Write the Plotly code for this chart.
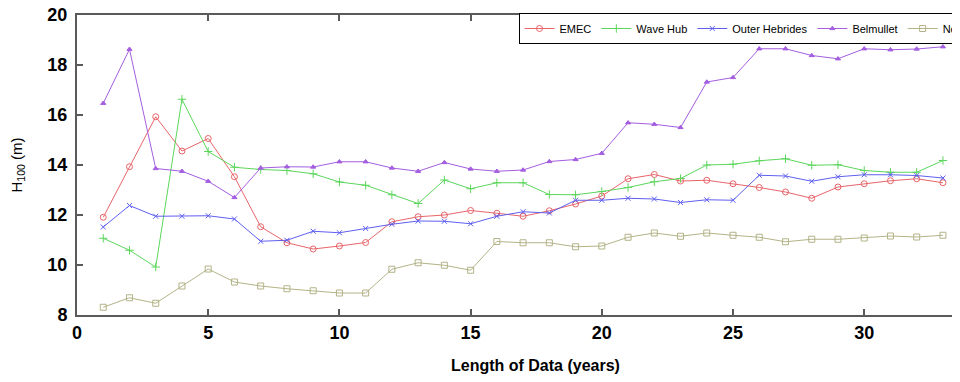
import plotly.graph_objects as go

years = list(range(1, 34))

emec = [11.91, 13.93, 15.93, 14.56, 15.06, 13.53, 11.53, 10.89, 10.64, 10.76, 10.90,
        11.73, 11.93, 12.00, 12.18, 12.07, 11.95, 12.17, 12.44, 12.76, 13.45, 13.62,
        13.36, 13.39, 13.25, 13.10, 12.92, 12.67, 13.12, 13.25, 13.37, 13.45, 13.29]
wave_hub = [11.07, 10.59, 9.92, 16.63, 14.54, 13.91, 13.82, 13.78, 13.65, 13.32, 13.19,
            12.81, 12.46, 13.40, 13.05, 13.29, 13.29, 12.82, 12.81, 12.94, 13.10, 13.33,
            13.46, 14.00, 14.03, 14.17, 14.25, 13.99, 14.01, 13.78, 13.71, 13.71, 14.18]
outer_hebrides = [11.52, 12.38, 11.95, 11.95, 11.97, 11.84, 10.95, 10.99, 11.35, 11.29, 11.46,
                  11.63, 11.76, 11.75, 11.65, 11.95, 12.13, 12.08, 12.59, 12.59, 12.67, 12.64,
                  12.50, 12.61, 12.59, 13.59, 13.56, 13.35, 13.53, 13.61, 13.61, 13.58, 13.48]
belmullet = [16.47, 18.63, 13.86, 13.75, 13.35, 12.70, 13.88, 13.93, 13.92, 14.13, 14.13,
             13.88, 13.75, 14.10, 13.84, 13.75, 13.80, 14.14, 14.22, 14.47, 15.69, 15.63,
             15.50, 17.32, 17.50, 18.65, 18.65, 18.38, 18.25, 18.65, 18.61, 18.64, 18.73]
north_sea = [8.31, 8.69, 8.47, 9.16, 9.84, 9.32, 9.16, 9.05, 8.97, 8.88, 8.88,
             9.83, 10.09, 9.99, 9.79, 10.94, 10.89, 10.89, 10.73, 10.76, 11.11, 11.28,
             11.15, 11.28, 11.19, 11.11, 10.93, 11.03, 11.03, 11.08, 11.16, 11.12, 11.19]

x_title = "Length of Data (years)"
y_title = "H<sub>100</sub> (m)"

series = [
    ("EMEC", emec, "#e8656a", "circle-open", 6),
    ("Wave Hub", wave_hub, "#5cd65c", "cross-thin-open", 6),
    ("Outer Hebrides", outer_hebrides, "#5f5ff0", "x-thin-open", 5),
    ("Belmullet", belmullet, "#a45ee0", "triangle-up", 4.5),
    ("North Sea", north_sea, "#b3b388", "square-open", 6),
]

fig = go.Figure()
for name, vals, color, sym, size in series:
    fig.add_trace(go.Scatter(
        x=years, y=vals, name=name, mode="lines+markers",
        line=dict(color=color, width=1),
        marker=dict(symbol=sym, size=size, color=color, line=dict(color=color, width=1)),
    ))

axis_color = "#5a5a5a"
fig.update_layout(
    width=952, height=374,
    margin=dict(l=69, r=0, t=7, b=67, autoexpand=False),
    paper_bgcolor="white", plot_bgcolor="white",
    font=dict(family="Liberation Sans, Arial, sans-serif", color="black"),
    showlegend=True,
    legend=dict(
        orientation="h", x=0.5, xanchor="left", y=1.0067, yanchor="top",
        bgcolor="white", bordercolor="black", borderwidth=1,
        font=dict(size=11, color="black"),
        itemwidth=30,
    ),
    annotations=[dict(
        text=x_title, xref="paper", yref="paper", x=0.5187, y=-0.167,
        xanchor="center", yanchor="middle", showarrow=False,
        font=dict(size=16, weight="bold", color="black"),
    )],
)
fig.update_xaxes(
    range=[0, 33.65], tickmode="linear", tick0=0, dtick=5,
    showgrid=False, zeroline=False,
    showline=True, linecolor=axis_color, linewidth=2, mirror="ticks",
    ticks="inside", ticklen=6, tickcolor=axis_color, tickwidth=1.5,
    tickfont=dict(size=18, weight="bold", color="black"),
    ticklabelstandoff=0, ticklabeloverflow="allow",
)
fig.update_yaxes(
    range=[8, 20], tickmode="linear", tick0=8, dtick=2,
    showgrid=False, zeroline=False,
    showline=True, linecolor=axis_color, linewidth=2, mirror="ticks",
    ticks="inside", ticklen=6, tickcolor=axis_color, tickwidth=1.5,
    tickfont=dict(size=18, weight="bold", color="black"),
    ticklabelstandoff=4, ticklabeloverflow="allow",
    title=dict(text=y_title, font=dict(size=15, color="black"), standoff=24),
)

fig.write_html("out.html")
